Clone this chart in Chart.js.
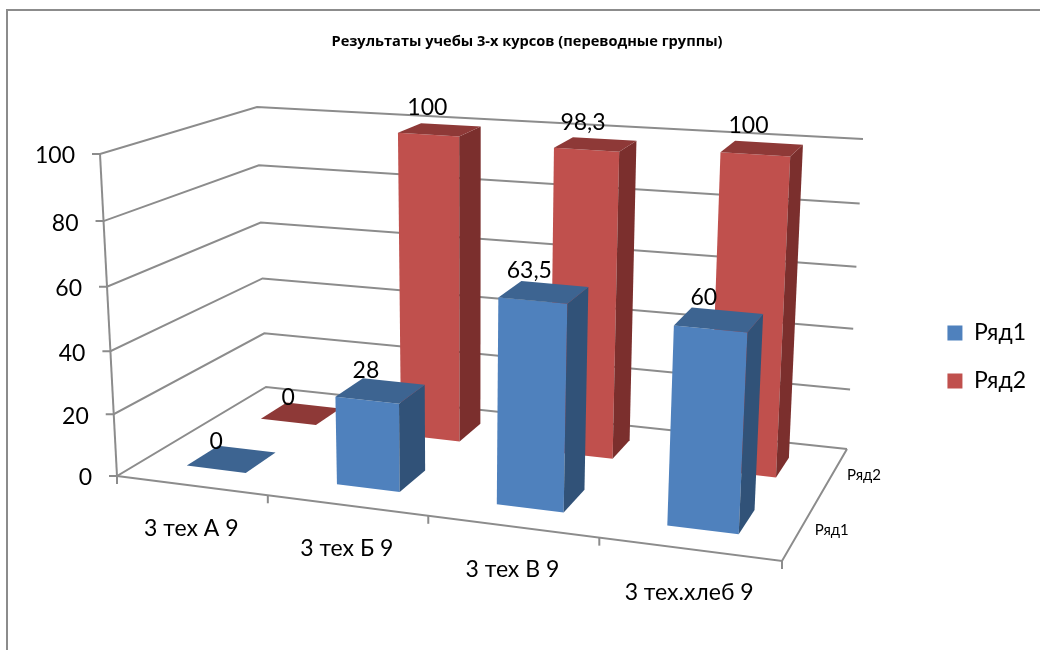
<!DOCTYPE html>
<html>
<head>
<meta charset="utf-8">
<title>Результаты учебы</title>
<script src="https://cdn.jsdelivr.net/npm/chart.js@4"></script>
<style>
html, body { margin: 0; background: #fff; overflow: hidden; }
#page { position: relative; width: 1040px; height: 650px; overflow: hidden; }
#frame { position: absolute; left: 6px; top: 9px; width: 1100px; height: 700px; border: 2px solid #8c8c8c; }
#chart { position: absolute; left: 0; top: 0; }
</style>
</head>
<body>
<div id="page">
<div id="frame"></div>
<canvas id="chart" width="1040" height="681"></canvas>
</div>
<script>
// chart data
const categories = ['3 тех А 9', '3 тех Б 9', '3 тех В 9', '3 тех.хлеб 9'];
const seriesNames = ['Ряд1', 'Ряд2'];
const series1 = [0, 28, 63.5, 60];
const series2 = [0, 100, 98.3, 100];
const yTicks = [0, 20, 40, 60, 80, 100];
const chartTitle = 'Результаты учебы 3-х курсов (переводные группы)';

const FONT = 'Lato, "Open Sans", sans-serif';
const LINE = '#8c8c8c';
const FACES = [
    { front: '#4f81bd', side: '#315278', top: '#3d6491' },
    { front: '#c0504d', side: '#7b2f2d', top: '#8e3937' }
];

// corners of the 3d box on screen: [front, back] x [bottom, top] x [left, right]
const BOX = {
    fbl: [117, 476], fbr: [782, 561], ftl: [100, 154], ftr: [800, 207],
    bbl: [266, 387], bbr: [847, 449], btl: [257, 107], btr: [863, 139]
};
const U_PERSPECTIVE = 0.88;
const V_PERSPECTIVE = 0.95;
const W_PERSPECTIVE = 1.225;

function squeeze(t, k) {
    return k * t / (1 + (k - 1) * t);
}

function lerp(a, b, t) {
    return [a[0] + (b[0] - a[0]) * t, a[1] + (b[1] - a[1]) * t];
}

// u along categories, v along values, w along series, all 0..1
function project(u, v, w) {
    const pu = squeeze(u, U_PERSPECTIVE);
    const pw = squeeze(w, W_PERSPECTIVE);
    const bottom = lerp(lerp(BOX.fbl, BOX.fbr, pu), lerp(BOX.bbl, BOX.bbr, pu), pw);
    const top = lerp(lerp(BOX.ftl, BOX.ftr, pu), lerp(BOX.btl, BOX.btr, pu), pw);
    return lerp(bottom, top, squeeze(v, V_PERSPECTIVE));
}

function polygon(ctx, points, fill) {
    ctx.beginPath();
    points.forEach((p, i) => i ? ctx.lineTo(p[0], p[1]) : ctx.moveTo(p[0], p[1]));
    ctx.closePath();
    ctx.fillStyle = fill;
    ctx.fill();
}

function polyline(ctx, points) {
    ctx.beginPath();
    points.forEach((p, i) => i ? ctx.lineTo(p[0], p[1]) : ctx.moveTo(p[0], p[1]));
    ctx.stroke();
}

function unitX(chart, px) {
    const area = chart.chartArea;
    return (px - area.left) / (area.right - area.left);
}

function unitY(chart, px) {
    const area = chart.chartArea;
    return (area.bottom - px) / (area.bottom - area.top);
}

// bar controller which draws its bars as boxes in the projected space
class Bar3DController extends Chart.BarController {
    static id = 'bar3d';
    static defaults = Chart.BarController.defaults;
    static overrides = Chart.BarController.overrides;

    draw() {
        const chart = this.chart;
        const ctx = chart.ctx;
        const index = this.index;
        const faces = FACES[index];
        const w0 = (index + 0.3) / seriesNames.length;
        const w1 = (index + 0.7) / seriesNames.length;
        const values = this.getDataset().data;

        this.getMeta().data.forEach((bar, i) => {
            const u0 = unitX(chart, bar.x - bar.width / 2);
            const u1 = unitX(chart, bar.x + bar.width / 2);
            const v0 = unitY(chart, bar.base);
            const v1 = unitY(chart, bar.y);

            const frontBL = project(u0, v0, w0);
            const frontBR = project(u1, v0, w0);
            const frontTL = project(u0, v1, w0);
            const frontTR = project(u1, v1, w0);
            const backBR = project(u1, v0, w1);
            const backTL = project(u0, v1, w1);
            const backTR = project(u1, v1, w1);

            polygon(ctx, [frontBL, frontBR, frontTR, frontTL], faces.front);
            polygon(ctx, [frontBR, backBR, backTR, frontTR], faces.side);
            polygon(ctx, [frontTL, frontTR, backTR, backTL], faces.top);

            ctx.fillStyle = '#000';
            ctx.font = '23px ' + FONT;
            ctx.textAlign = 'center';
            ctx.textBaseline = 'middle';
            const label = String(values[i]).replace('.', ',');
            const u = unitX(chart, bar.x);
            ctx.fillText(label, (frontTL[0] + frontTR[0]) / 2 - 9 * u * u, (backTL[1] + backTR[1]) / 2 - 8 - 9 * v1);
        });
    }
}
Chart.register(Bar3DController);

// walls, floor, ticks and axis labels
const box3dPlugin = {
    id: 'box3d',
    beforeDatasetsDraw(chart) {
        const ctx = chart.ctx;
        const scaleY = chart.scales.y;
        ctx.save();
        ctx.strokeStyle = LINE;
        ctx.lineWidth = 2;

        // gridlines go along the left wall and the back wall
        yTicks.forEach(tick => {
            const v = unitY(chart, scaleY.getPixelForValue(tick));
            const corner = project(0, v, 0);
            polyline(ctx, [[corner[0] - 8, corner[1]], corner, project(0, v, 1), project(1, v, 1)]);

            ctx.fillStyle = '#000';
            ctx.font = '23px ' + FONT;
            ctx.textAlign = 'right';
            ctx.textBaseline = 'middle';
            ctx.fillText(String(tick), corner[0] - 25, corner[1] + 2);
        });
        polyline(ctx, [project(0, 0, 0), project(0, 1, 0)]);
        polyline(ctx, [project(0, 0, 0), project(1, 0, 0), project(1, 0, 1)]);

        // category ticks and labels on the front edge
        ctx.fillStyle = '#000';
        ctx.font = '23px ' + FONT;
        ctx.textAlign = 'center';
        for (let i = 0; i <= categories.length; i++) {
            const p = project(i / categories.length, 0, 0);
            polyline(ctx, [p, [p[0], p[1] + 8]]);
        }
        categories.forEach((name, i) => {
            const p = project((i + 0.5) / categories.length, 0, 0);
            ctx.fillText(name, p[0], p[1] + 43);
        });

        // series names on the right edge
        ctx.font = '15px ' + FONT;
        seriesNames.forEach((name, i) => {
            const p = project(1, 0, (i + 0.5) / seriesNames.length);
            ctx.fillText(name, p[0] + 31, p[1] + 2);
        });
        ctx.restore();
    }
};

new Chart(document.getElementById('chart'), {
    type: 'bar3d',
    data: {
        labels: categories,
        datasets: [
            { label: seriesNames[0], data: series1, backgroundColor: FACES[0].front, grouped: false },
            { label: seriesNames[1], data: series2, backgroundColor: FACES[1].front, grouped: false }
        ]
    },
    options: {
        responsive: false,
        animation: false,
        barPercentage: 0.4,
        categoryPercentage: 1,
        layout: { padding: { left: 18, top: 33, right: 4 } },
        scales: {
            x: { display: false },
            y: { display: false, min: 0, max: 100 }
        },
        plugins: {
            tooltip: { enabled: false },
            title: {
                display: true,
                text: chartTitle,
                color: '#000',
                font: { family: '"Open Sans", sans-serif', size: 14.6, weight: 'bold' },
                padding: 0
            },
            legend: {
                position: 'right',
                labels: {
                    color: '#000',
                    font: { family: FONT, size: 23 },
                    boxWidth: 15,
                    boxHeight: 15,
                    padding: 25
                }
            }
        }
    },
    plugins: [box3dPlugin]
});
</script>
</body>
</html>
